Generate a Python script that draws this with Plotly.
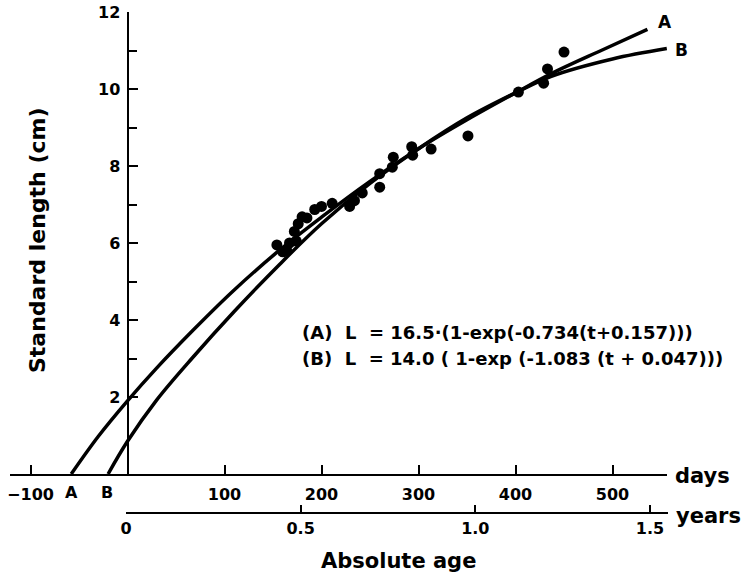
import plotly.graph_objects as go

# ---------- data ----------
# observed fish: age in days, standard length in cm
obs_days = [154, 160, 164, 167, 172, 174, 176, 180, 185, 193, 200, 211, 229, 234,
            242, 260, 260, 273, 274, 293, 294, 313, 351, 403, 429, 433, 450]
obs_len = [5.95, 5.77, 5.82, 6.0, 6.3, 6.05, 6.5, 6.68, 6.65, 6.87, 6.95, 7.03, 6.95, 7.1,
           7.3, 7.45, 7.8, 7.97, 8.23, 8.5, 8.28, 8.44, 8.78, 9.92, 10.15, 10.52, 10.96]

# growth curve A
curve_a_days = [-58, -30, 0, 30, 67, 110, 157, 200, 250, 300, 350, 400, 437, 490, 536]
curve_a_len = [0, 0.98, 1.9, 2.75, 3.72, 4.78, 5.82, 6.67, 7.6, 8.45, 9.2, 9.9, 10.4, 11.02, 11.55]

# growth curve B
curve_b_days = [-20, 0, 30, 67, 110, 157, 200, 250, 300, 350, 400, 437, 500, 556]
curve_b_len = [0, 0.85, 1.92, 3.02, 4.22, 5.45, 6.5, 7.55, 8.45, 9.25, 9.9, 10.33, 10.78, 11.05]

day_ticks = [-100, 100, 200, 300, 400, 500]
year_ticks = [0, 0.5, 1.0, 1.5]
year_labels = ['0', '0.5', '1.0', '1.5']
len_ticks = [2, 4, 6, 8, 10, 12]
len_minor = [3, 5, 7, 9, 11]

eq_a = '(A)  L  = 16.5·(1-exp(-0.734(t+0.157)))'
eq_b = '(B)  L  = 14.0 ( 1-exp (-1.083 (t + 0.047)))'

# ---------- pixel helpers (body margin removed in post_script) ----------
W, H = 754, 578
def px(x):
    return x / W
def py(y):
    return 1 - y / H

FONT = 'DejaVu Sans'
black = 'black'

fig = go.Figure()

fig.add_trace(go.Scatter(x=curve_a_days, y=curve_a_len, mode='lines', line=dict(color=black, width=3.5, shape='spline'),
                         showlegend=False, hoverinfo='skip'))
fig.add_trace(go.Scatter(x=curve_b_days, y=curve_b_len, mode='lines', line=dict(color=black, width=3.5, shape='spline'),
                         showlegend=False, hoverinfo='skip'))
fig.add_trace(go.Scatter(x=obs_days, y=obs_len, mode='markers', marker=dict(color=black, size=11),
                         showlegend=False))
# dummy trace so the years axis gets drawn
fig.add_trace(go.Scatter(x=year_ticks, y=[None] * len(year_ticks), xaxis='x2', yaxis='y',
                         mode='markers', showlegend=False, hoverinfo='skip'))

x0_px, x1_px = 10, 667
zero_px, per_day = 127.5, 0.97
y0_px, y1_px = 474, 12

fig.update_layout(
    width=W, height=H,
    margin=dict(l=0, r=0, t=0, b=0, autoexpand=False),
    paper_bgcolor='white', plot_bgcolor='rgba(0,0,0,0)',
    font=dict(family=FONT, color=black, weight='bold'),
    xaxis=dict(domain=[px(x0_px), px(x1_px)],
               range=[(x0_px - zero_px) / per_day, (x1_px - zero_px) / per_day],
               anchor='y', showgrid=False, zeroline=False, automargin=False,
               showline=True, linecolor=black, linewidth=2, ticklabeloverflow='allow',
               tickvals=day_ticks, ticks='inside', ticklen=9, tickwidth=2, tickcolor=black,
               tickfont=dict(size=16, family=FONT, weight='bold'), ticklabelstandoff=5),
    xaxis2=dict(domain=[px(126), px(668)],
                range=[0, (668 - 126) / 349.3],
                anchor='free', position=py(513), showgrid=False, zeroline=False, automargin=False,
                showline=True, linecolor=black, linewidth=2, ticklabeloverflow='allow',
                tickvals=year_ticks, ticktext=year_labels,
                ticks='inside', ticklen=7, tickwidth=2, tickcolor=black,
                tickfont=dict(size=16, family=FONT, weight='bold'), ticklabelstandoff=1),
    yaxis=dict(domain=[py(y0_px), py(y1_px)], range=[0, 12],
               anchor='free', position=px(zero_px), showgrid=False, zeroline=False, automargin=False,
               showline=True, linecolor=black, linewidth=2, ticklabeloverflow='allow',
               tickvals=len_ticks, ticks='inside', ticklen=9, tickwidth=2, tickcolor=black,
               tickfont=dict(size=16, family=FONT, weight='bold'), ticklabelstandoff=3,
               minor=dict(tickvals=len_minor, ticks='inside', ticklen=8, tickwidth=2, tickcolor=black)),
)

ann = [
    dict(text='Standard length (cm)', x=px(38), y=py(240), textangle=-90, size=22),
    dict(text='Absolute age', x=px(398), y=py(561), size=21),
    dict(text='days', x=px(702), y=py(476), size=21),
    dict(text='years', x=px(708), y=py(516), size=21),
    dict(text='A', x=px(665), y=py(22), size=17),
    dict(text='B', x=px(681), y=py(50), size=17),
    dict(text='A', x=px(71), y=py(492), size=16),
    dict(text='B', x=px(107), y=py(492), size=16),
]
for a in ann:
    fig.add_annotation(text=a['text'], x=a['x'], y=a['y'], xref='paper', yref='paper',
                       showarrow=False, textangle=a.get('textangle', 0),
                       font=dict(size=a['size'], family=FONT, color=black, weight='bold'),
                       xanchor='center', yanchor='middle')

for txt, yy in [(eq_a, 333), (eq_b, 358)]:
    fig.add_annotation(text=txt, x=px(300), y=py(yy), xref='paper', yref='paper', showarrow=False,
                       xanchor='left', yanchor='middle',
                       font=dict(size=18, family=FONT, color=black, weight='bold'))

fig.write_html('out.html', config={'displayModeBar': False},
               post_script="document.body.style.margin='0';")
